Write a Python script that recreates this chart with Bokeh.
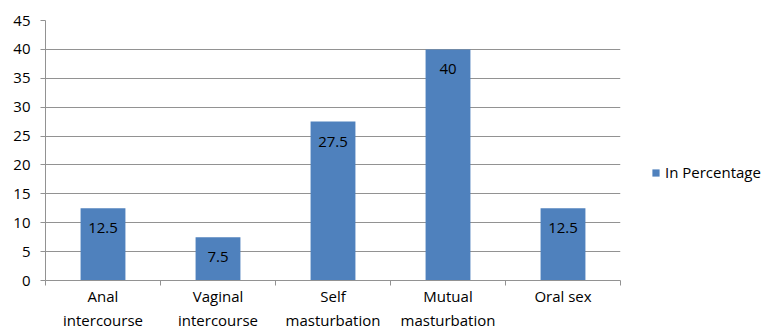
from bokeh.plotting import figure
from bokeh.models import ColumnDataSource, FixedTicker, Range1d, Legend, LegendItem
from bokeh.core.properties import value
from bokeh.embed import file_html
from bokeh.resources import INLINE

categories = ["Anal\nintercourse", "Vaginal\nintercourse", "Self\nmasturbation",
              "Mutual\nmasturbation", "Oral sex"]
percentages = [12.5, 7.5, 27.5, 40, 12.5]
y_ticks = [0, 5, 10, 15, 20, 25, 30, 35, 40, 45]
series_name = "In Percentage"

FONT = "Open Sans"
FSIZE = "15px"
BAR = "#4F81BD"
GRID = "#929292"

centers = [i + 0.5 for i in range(len(categories))]
src = ColumnDataSource(dict(x=centers, top=percentages,
                            label=[f"{v:g}" for v in percentages]))

p = figure(frame_width=575, frame_height=260, output_backend="svg",
           toolbar_location=None,
           x_range=Range1d(0, len(categories)), y_range=Range1d(0, 45),
           min_border_left=45, min_border_right=0, min_border_top=20,
           min_border_bottom=0)
p.outline_line_color = None
p.background_fill_color = "white"

bars = p.vbar(x="x", top="top", width=0.39, bottom=0, source=src,
              fill_color=BAR, line_color=None)

p.text(x="x", y="top", text="label", source=src, text_align="center",
       text_baseline="middle", y_offset=20, text_font=value(FONT),
       text_font_size=FSIZE, text_color="#000000")

# x axis: category names at centres, tick marks at the boundaries
xa = p.xaxis[0]
xa.ticker = FixedTicker(ticks=centers, minor_ticks=list(range(len(categories) + 1)))
xa.major_label_overrides = {c: lab for c, lab in zip(centers, categories)}
xa.major_tick_out = 0
xa.major_tick_in = 0
xa.minor_tick_out = 5
xa.minor_tick_in = 0
xa.minor_tick_line_color = GRID
xa.axis_line_color = GRID
xa.major_label_text_font = FONT
xa.major_label_text_font_size = FSIZE
xa.major_label_text_color = "#000000"
xa.major_label_standoff = 0
xa.major_label_orientation = "horizontal"

ya = p.yaxis[0]
ya.ticker = FixedTicker(ticks=y_ticks)
ya.major_tick_out = 5
ya.major_tick_in = 0
ya.minor_tick_out = 0
ya.minor_tick_in = 0
ya.major_tick_line_color = GRID
ya.axis_line_color = GRID
ya.major_label_text_font = FONT
ya.major_label_text_font_size = FSIZE
ya.major_label_text_color = "#000000"
ya.major_label_standoff = 10

p.xgrid.grid_line_color = None
p.ygrid.grid_line_color = GRID
p.ygrid.grid_line_width = 1

legend = Legend(items=[LegendItem(label=series_name, renderers=[bars])],
                location=(31, 98), border_line_color=None,
                background_fill_alpha=0, padding=0, margin=0,
                glyph_width=9, glyph_height=9, label_standoff=5,
                label_text_font=FONT, label_text_font_size=FSIZE,
                label_text_color="#000000")
p.add_layout(legend, "right")

open("out.html", "w").write(file_html(p, INLINE))
